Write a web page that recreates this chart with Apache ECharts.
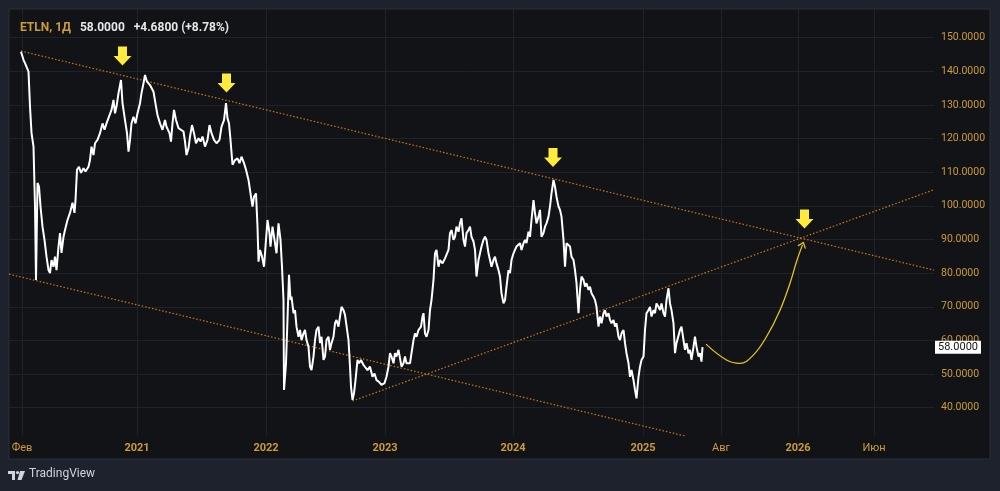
<!DOCTYPE html>
<html>
<head>
<meta charset="utf-8">
<title>ETLN, 1Д</title>
<script src="https://cdn.jsdelivr.net/npm/echarts@6/dist/echarts.min.js"></script>
<style>
  html, body { margin: 0; padding: 0; background: #1e222d; }
  #chart { width: 1000px; height: 491px; }
</style>
</head>
<body>
<div id="chart"></div>
<script>
// time axis: labels and their position as trading-day index (0 = Feb 2020)
var tickLabels = ['Фев', '2021', '2022', '2023', '2024', '2025', 'Авг', '2026', 'Июн'];
var tickDays = [0, 230, 488, 726, 982, 1242, 1398, 1552, 1704];

var symbol = 'ETLN';
var period = '1Д';
var lastClose = 58.0;
var change = 4.68;
var changePct = 8.78;

// daily close: [day, price]
var priceBars = [
    [-2, 145.8], [3, 143.4], [6, 142.4], [9, 142.9], [13, 139.9], [16, 129.5], [19, 121.7], [23, 117.6],
    [26, 99.8], [28, 78.0], [31, 106.8], [34, 105.7], [37, 99.8], [41, 93.8], [45, 89.9], [49, 84.9],
    [53, 80.9], [56, 80.0], [59, 83.9], [63, 81.9], [66, 84.9], [69, 80.9], [73, 87.9], [76, 91.9],
    [79, 86.0], [83, 90.8], [86, 92.8], [91, 95.8], [96, 97.9], [101, 100.9], [105, 97.9], [107, 101.7],
    [110, 110.7], [114, 111.6], [118, 109.8], [123, 111.2], [127, 110.2], [133, 111.6], [136, 113.6], [139, 117.6],
    [143, 115.1], [146, 118.6], [151, 119.6], [156, 121.6], [161, 124.5], [165, 122.6], [169, 124.5], [174, 126.5],
    [179, 128.5], [183, 131.5], [186, 127.5], [189, 129.5], [193, 133.5], [198, 137.4], [201, 130.5], [206, 125.5],
    [210, 121.6], [213, 116.1], [216, 119.6], [219, 124.5], [223, 126.5], [227, 124.5], [231, 127.5], [236, 130.5],
    [239, 133.5], [243, 136.4], [246, 138.9], [250, 136.9], [253, 137.4], [256, 135.9], [263, 133.9], [268, 129.5],
    [271, 127.0], [276, 124.5], [281, 122.6], [286, 125.5], [289, 123.5], [295, 121.6], [298, 119.1], [301, 124.5],
    [304, 128.5], [308, 125.5], [313, 123.1], [317, 122.6], [323, 122.1], [326, 119.1], [329, 115.1], [333, 117.1],
    [336, 120.6], [340, 124.0], [344, 121.6], [348, 118.6], [353, 120.1], [357, 119.1], [361, 120.6], [366, 117.6],
    [371, 119.6], [375, 124.0], [379, 121.6], [384, 119.6], [389, 118.6], [395, 119.6], [399, 123.5], [404, 125.5],
    [408, 130.5], [411, 126.0], [414, 124.5], [417, 119.6], [421, 112.2], [426, 113.6], [431, 114.1], [435, 112.7],
    [439, 114.6], [444, 112.7], [448, 110.7], [453, 107.7], [457, 103.7], [461, 99.8], [464, 102.7], [468, 103.7],
    [471, 93.8], [473, 83.4], [476, 86.9], [480, 84.9], [484, 81.9], [488, 89.9], [491, 95.8], [495, 91.9],
    [497, 87.9], [501, 93.8], [505, 89.9], [509, 85.9], [513, 94.8], [517, 89.9], [520, 81.9], [523, 72.0],
    [524, 45.3], [528, 53.2], [531, 53.2], [534, 79.5], [537, 72.0], [539, 73.0], [543, 68.1], [546, 69.0],
    [549, 64.1], [553, 61.1], [556, 63.1], [559, 60.1], [563, 62.1], [566, 63.1], [569, 60.1], [573, 58.1],
    [576, 52.2], [579, 51.2], [583, 55.2], [586, 60.1], [589, 63.1], [593, 64.1], [596, 59.2], [599, 61.1],
    [603, 54.2], [606, 55.2], [609, 60.1], [613, 61.1], [616, 57.2], [619, 59.2], [623, 61.1], [626, 65.1],
    [629, 66.1], [633, 64.1], [636, 67.1], [639, 70.0], [643, 69.0], [646, 67.6], [649, 67.1], [653, 60.1],
    [656, 52.2], [658, 46.3], [661, 42.3], [664, 44.3], [667, 48.2], [671, 54.2], [674, 53.2], [678, 54.2],
    [683, 52.7], [687, 53.2], [691, 51.2], [696, 52.2], [701, 49.2], [705, 50.2], [709, 48.2], [714, 47.7],
    [719, 46.8], [725, 47.3], [729, 49.2], [733, 52.2], [736, 56.2], [739, 55.2], [743, 53.2], [746, 56.2],
    [749, 55.2], [753, 57.2], [756, 56.7], [759, 52.2], [763, 53.2], [766, 55.2], [769, 53.2], [773, 52.7],
    [776, 53.2], [779, 56.2], [783, 60.1], [786, 62.1], [789, 61.1], [793, 63.1], [798, 64.1], [801, 67.1],
    [803, 68.1], [806, 62.1], [809, 61.1], [813, 63.1], [816, 69.0], [819, 72.0], [823, 78.0], [826, 85.9],
    [829, 86.9], [833, 81.9], [836, 83.9], [841, 82.9], [846, 84.4], [849, 83.9], [853, 86.9], [856, 91.9],
    [859, 92.8], [863, 89.9], [866, 90.8], [869, 93.8], [873, 92.3], [876, 94.8], [879, 96.3], [883, 89.9],
    [886, 87.9], [889, 91.9], [893, 92.8], [896, 93.8], [899, 90.8], [903, 89.4], [906, 86.9], [909, 79.0],
    [913, 83.9], [916, 85.9], [919, 87.9], [923, 89.9], [926, 90.8], [929, 89.9], [933, 85.9], [936, 83.9],
    [939, 81.9], [943, 83.9], [946, 84.9], [949, 82.9], [953, 80.9], [956, 79.0], [959, 74.0], [963, 71.0],
    [966, 72.0], [969, 76.0], [973, 80.9], [976, 80.0], [979, 83.9], [983, 85.9], [986, 86.9], [989, 87.9],
    [993, 87.4], [996, 88.9], [999, 86.9], [1003, 88.9], [1006, 89.9], [1009, 88.9], [1013, 92.3], [1016, 90.8],
    [1019, 95.8], [1023, 101.7], [1026, 97.8], [1029, 94.8], [1033, 96.8], [1036, 98.8], [1039, 90.8], [1043, 91.9],
    [1046, 93.8], [1049, 94.8], [1053, 96.8], [1056, 99.8], [1059, 103.7], [1063, 107.7], [1066, 105.7], [1069, 102.7],
    [1073, 99.8], [1076, 98.8], [1079, 96.8], [1083, 89.9], [1086, 81.9], [1089, 88.9], [1096, 87.9], [1099, 84.9],
    [1103, 83.9], [1106, 80.9], [1109, 77.0], [1113, 68.1], [1116, 75.0], [1119, 79.0], [1123, 78.0], [1126, 76.0],
    [1129, 77.0], [1133, 75.0], [1136, 76.0], [1139, 74.0], [1143, 73.0], [1146, 72.0], [1149, 70.0], [1153, 64.1],
    [1156, 67.1], [1159, 65.1], [1163, 68.1], [1166, 69.0], [1169, 67.1], [1173, 68.1], [1176, 66.1], [1179, 65.1],
    [1183, 66.1], [1186, 64.1], [1189, 65.1], [1193, 61.1], [1196, 60.1], [1199, 62.1], [1203, 63.1], [1206, 59.2],
    [1209, 56.2], [1213, 53.2], [1216, 49.2], [1219, 51.2], [1223, 48.2], [1226, 45.3], [1229, 42.8], [1233, 49.2],
    [1236, 52.2], [1239, 54.2], [1243, 55.2], [1246, 63.1], [1249, 68.1], [1253, 69.0], [1256, 70.0], [1259, 67.1],
    [1263, 69.0], [1266, 68.1], [1269, 71.0], [1273, 70.0], [1276, 69.0], [1279, 71.0], [1283, 68.1], [1286, 67.1],
    [1289, 72.0], [1293, 75.5], [1296, 71.0], [1299, 69.0], [1303, 65.1], [1306, 56.2], [1309, 59.2], [1313, 59.2],
    [1316, 63.1], [1319, 64.1], [1323, 60.1], [1326, 57.2], [1329, 59.2], [1333, 56.2], [1336, 57.2], [1339, 54.2],
    [1343, 58.1], [1346, 61.1], [1349, 58.1], [1353, 55.2], [1356, 56.2], [1359, 53.7], [1361, 58.0]
];

// drawn trend lines: [start, end] as [day, price]
var upperTrend = [[-2, 146.0], [1824, 80.9]];
var lowerTrend = [[-26, 79.7], [1326, 31.6]];
var risingTrend = [[661, 42.0], [1824, 104.8]];

// yellow marker arrows and the forecast path
var arrowMarks = [[201, 144.5], [409, 136.5], [1062, 114.4], [1565, 96.1]];
var forecastPath = [[1368, 58.9], [1409, 54.2], [1436, 53.2], [1463, 55.7], [1489, 61.1],
    [1516, 69.0], [1536, 77.0], [1549, 83.4], [1561, 88.4]];

var gold = '#cc9b38';
var gridColor = '#1f2229';
var trendColor = '#c9791c';
var font = 'Roboto';

var forecastData = forecastPath.map(function (p, i) {
    if (i < forecastPath.length - 1) return p;
    return {
        value: p,
        symbol: 'path://M0,10L5,0L10,10',
        symbolSize: [8, 5],
        symbolRotate: -20,
        itemStyle: { color: 'none', borderColor: '#e3c31e', borderWidth: 1.2, opacity: 1 }
    };
});

var chart = echarts.init(document.getElementById('chart'));

chart.setOption({
    backgroundColor: '#1e222d',
    animation: false,
    textStyle: { fontFamily: font },
    title: {
        left: 15,
        top: 14,
        text: '{s|' + symbol + ', ' + period + '}  {p|' + lastClose.toFixed(4) + '}  {p|+' + change.toFixed(4) + ' (+' + changePct.toFixed(2) + '%)}',
        textStyle: {
            rich: {
                s: { color: gold, fontSize: 12, fontFamily: font },
                p: { color: '#e6e6e6', fontSize: 12, fontFamily: font }
            }
        }
    },
    graphic: [
        {
            type: 'rect', z: -10, silent: true,
            shape: { x: 9, y: 9, width: 981, height: 450 },
            style: { fill: '#121317', stroke: '#2a2e39', lineWidth: 1 }
        },
        {
            type: 'group', left: 8, top: 471,
            children: [
                { type: 'rect', shape: { x: 0, y: 0, width: 7, height: 3 }, style: { fill: '#d1d4dc' } },
                { type: 'rect', shape: { x: 4, y: 0, width: 3, height: 9 }, style: { fill: '#d1d4dc' } },
                { type: 'circle', shape: { cx: 9.5, cy: 1.6, r: 1.6 }, style: { fill: '#d1d4dc' } },
                { type: 'polygon', shape: { points: [[12, 0], [17, 0], [13.5, 9], [9.5, 9]] }, style: { fill: '#d1d4dc' } }
            ]
        },
        {
            type: 'text', left: 29, top: 468,
            style: { text: 'TradingView', fill: '#d1d4dc', font: '12px Roboto' }
        }
    ],
    grid: { left: 9, right: 66, top: 9, bottom: 55 },
    xAxis: {
        type: 'value',
        min: -26,
        max: 1824,
        axisLine: { show: false },
        axisTick: { show: false, customValues: tickDays },
        splitLine: { show: true, lineStyle: { color: gridColor, width: 1 } },
        axisLabel: {
            customValues: tickDays,
            color: gold,
            fontSize: 11,
            margin: 7,
            formatter: function (v) {
                var t = tickLabels[tickDays.indexOf(v)] || '';
                return /^\d{4}$/.test(t) ? '{y|' + t + '}' : t;
            },
            rich: { y: { fontWeight: 'bold', fontSize: 11, color: gold } }
        }
    },
    yAxis: {
        type: 'value',
        position: 'right',
        min: 31.6,
        max: 158.5,
        splitNumber: 12,
        minInterval: 10,
        maxInterval: 10,
        axisLine: { show: false },
        axisTick: { show: false },
        splitLine: { show: true, showMinLine: false, showMaxLine: false, lineStyle: { color: gridColor, width: 1 } },
        axisLabel: {
            color: gold,
            fontSize: 10.5,
            margin: 7,
            showMinLabel: false,
            showMaxLabel: false,
            formatter: function (v) {
                return Math.abs(v - Math.round(v / 10) * 10) < 1e-6 ? v.toFixed(4) : '';
            }
        }
    },
    series: [
        {
            name: 'upper', type: 'line', data: upperTrend, showSymbol: false, silent: true, z: 2,
            lineStyle: { color: trendColor, width: 1.2, type: [1.5, 2] }
        },
        {
            name: 'lower', type: 'line', data: lowerTrend, showSymbol: false, silent: true, z: 2,
            lineStyle: { color: trendColor, width: 1.2, type: [1.5, 2] }
        },
        {
            name: 'rising', type: 'line', data: risingTrend, showSymbol: false, silent: true, z: 2,
            lineStyle: { color: trendColor, width: 1.2, type: [1.5, 2] }
        },
        {
            name: symbol, type: 'line', data: priceBars, showSymbol: false, z: 4,
            lineStyle: { color: '#ffffff', width: 2 },
            markLine: {
                silent: true,
                symbol: 'none',
                lineStyle: { color: 'rgba(0,0,0,0)', width: 0 },
                data: [{ yAxis: lastClose }],
                label: {
                    show: true,
                    opacity: 1,
                    position: 'end',
                    distance: 1,
                    formatter: lastClose.toFixed(4),
                    backgroundColor: '#ffffff',
                    color: '#131313',
                    fontSize: 11,
                    fontFamily: font,
                    padding: [1, 3, 1, 3]
                }
            }
        },
        {
            name: 'forecast', type: 'line', data: forecastData, smooth: 0.4, symbol: 'none', z: 3,
            lineStyle: { color: '#e3c31e', width: 1.3 }
        },
        {
            name: 'marks', type: 'scatter', data: arrowMarks, z: 5,
            symbol: 'path://M4.5,0H13.5V9.5H18L9,19L0,9.5H4.5Z',
            symbolSize: [18, 19],
            itemStyle: { color: '#ffeb3b', opacity: 1 }
        }
    ]
});
</script>
</body>
</html>
